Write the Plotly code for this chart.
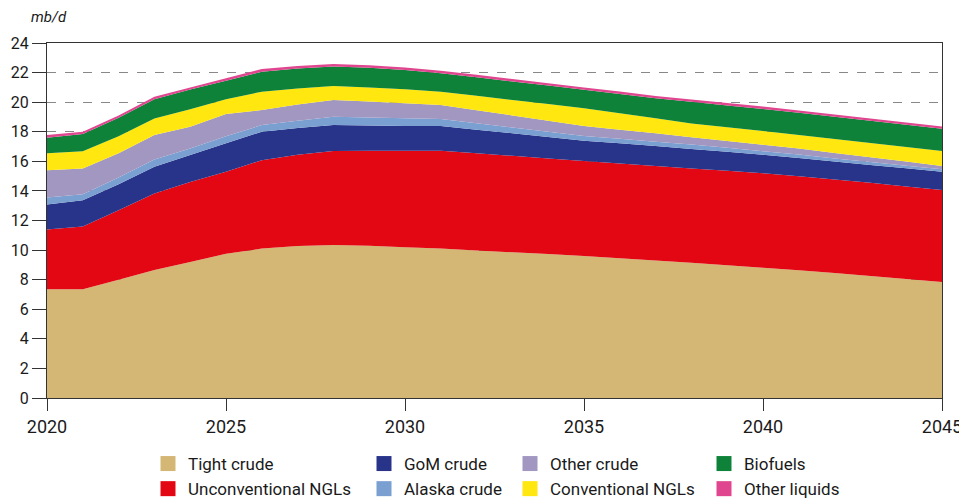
import plotly.graph_objects as go

years = list(range(2020, 2046))

tight_crude = [7.35, 7.35, 8.00, 8.65, 9.20, 9.75, 10.10, 10.28, 10.35, 10.30, 10.20, 10.10, 9.98,
               9.85, 9.73, 9.60, 9.45, 9.30, 9.15, 8.98, 8.80, 8.63, 8.45, 8.25, 8.05, 7.85]
unconventional_ngls = [4.05, 4.25, 4.70, 5.17, 5.41, 5.55, 5.98, 6.17, 6.35, 6.42, 6.52, 6.62, 6.57,
                       6.52, 6.47, 6.42, 6.40, 6.39, 6.37, 6.38, 6.40, 6.37, 6.33, 6.30, 6.25, 6.21]
gom_crude = [1.68, 1.77, 1.75, 1.81, 1.81, 1.92, 1.92, 1.80, 1.76, 1.71, 1.67, 1.67, 1.59,
             1.53, 1.45, 1.38, 1.37, 1.35, 1.32, 1.28, 1.24, 1.23, 1.21, 1.21, 1.23, 1.24]
alaska_crude = [0.47, 0.41, 0.45, 0.50, 0.45, 0.48, 0.45, 0.50, 0.56, 0.54, 0.52, 0.47, 0.43,
                0.39, 0.35, 0.31, 0.30, 0.29, 0.29, 0.27, 0.25, 0.23, 0.21, 0.19, 0.17, 0.16]
other_crude = [1.85, 1.74, 1.65, 1.65, 1.47, 1.50, 1.02, 1.10, 1.13, 1.08, 1.01, 0.95, 0.89,
               0.81, 0.75, 0.68, 0.62, 0.57, 0.49, 0.47, 0.43, 0.40, 0.37, 0.33, 0.29, 0.23]
conventional_ngls = [1.14, 1.17, 1.15, 1.12, 1.18, 1.00, 1.24, 1.08, 0.95, 0.95, 0.95, 0.90, 0.97,
                     1.05, 1.12, 1.20, 1.11, 1.01, 0.93, 0.92, 0.93, 0.92, 0.94, 0.96, 0.98, 1.01]
biofuels = [1.06, 1.15, 1.25, 1.30, 1.33, 1.25, 1.34, 1.35, 1.31, 1.33, 1.31, 1.25, 1.25,
            1.25, 1.25, 1.25, 1.31, 1.35, 1.47, 1.48, 1.49, 1.51, 1.51, 1.51, 1.50, 1.50]
other_liquids = [0.18, 0.16, 0.15, 0.17, 0.15, 0.17, 0.19, 0.17, 0.17, 0.17, 0.17, 0.17, 0.17,
                 0.17, 0.16, 0.16, 0.16, 0.16, 0.16, 0.16, 0.16, 0.15, 0.15, 0.15, 0.15, 0.15]

series = [
    ("Tight crude", tight_crude, "#D4B675"),
    ("Unconventional NGLs", unconventional_ngls, "#E30613"),
    ("GoM crude", gom_crude, "#28348A"),
    ("Alaska crude", alaska_crude, "#7A9FD1"),
    ("Other crude", other_crude, "#A197C0"),
    ("Conventional NGLs", conventional_ngls, "#FFE70F"),
    ("Biofuels", biofuels, "#0F823A"),
    ("Other liquids", other_liquids, "#E0468F"),
]

# legend columns: (legend id, names, left pixel on screen)
legend_cols = [
    ("legend", ["Tight crude", "Unconventional NGLs"], 148),
    ("legend2", ["GoM crude", "Alaska crude"], 364),
    ("legend3", ["Other crude", "Conventional NGLs"], 510),
    ("legend4", ["Biofuels", "Other liquids"], 704),
]

fig = go.Figure()
for name, vals, col in series:
    fig.add_trace(go.Scatter(
        x=years, y=vals, name=name, stackgroup="one", mode="none",
        fillcolor=col, line=dict(width=0), showlegend=False,
    ))

colors = {n: c for n, _, c in series}
for lid, names, _ in legend_cols:
    for n in names:
        fig.add_trace(go.Scatter(
            x=[None], y=[None], mode="markers", name=n, legend=lid,
            marker=dict(symbol="square", size=15, color=colors[n]),
            showlegend=True,
        ))

# page body has an 8px margin; figure coordinates = screen - 8
OFF = 8
W, H = 967 - OFF, 504 - OFF
L, T = 47 - OFF, 43 - OFF
R = W - (942 - OFF)
B = H - (398 - OFF)
pw = W - L - R
ph = H - T - B

def px_to_x(px):
    return (px - OFF - L) / pw

def py_to_y(py):
    return (H - B - (py - OFF)) / ph

legend_font = dict(family="Roboto", size=17, color="#1a1a1a")
layout_legends = {}
for lid, _, px in legend_cols:
    layout_legends[lid] = dict(
        x=px_to_x(px), y=py_to_y(446), xanchor="left", yanchor="top",
        orientation="v", font=legend_font, bgcolor="rgba(0,0,0,0)",
        traceorder="normal",
        itemclick=False, itemdoubleclick=False, tracegroupgap=0,
    )

fig.update_layout(
    width=W, height=H,
    margin=dict(l=L, r=R, t=T, b=B, autoexpand=False),
    paper_bgcolor="white", plot_bgcolor="white",
    font=dict(family="Roboto", color="#1a1a1a"),
    **layout_legends,
    xaxis=dict(
        range=[2020, 2045], tickmode="linear", tick0=2020, dtick=5,
        showgrid=False, zeroline=False,
        showline=True, linecolor="#333333", linewidth=1, mirror=True,
        ticks="outside", ticklen=12, tickcolor="#333333",
        tickfont=dict(family="Roboto", size=18, color="#1a1a1a"),
        automargin=False,
    ),
    yaxis=dict(
        range=[0, 24], tickmode="linear", tick0=0, dtick=2,
        showgrid=True, gridcolor="#888888", griddash="dash", gridwidth=1,
        zeroline=False,
        showline=True, linecolor="#333333", linewidth=1, mirror=True,
        ticks="outside", ticklen=14, tickcolor="#333333",
        ticklabelstandoff=0,
        tickfont=dict(family="Roboto", size=16, color="#1a1a1a"),
        automargin=False,
    ),
    annotations=[dict(
        text="<i>mb/d</i>", xref="paper", yref="paper",
        x=px_to_x(29), y=py_to_y(17), xanchor="left", yanchor="middle",
        showarrow=False, font=dict(family="Roboto", size=15, color="#1a1a1a"),
    )],
)

fig.write_html("out.html")
